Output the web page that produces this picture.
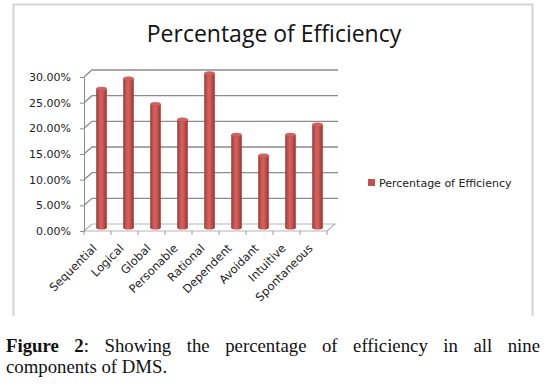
<!DOCTYPE html>
<html>
<head>
<meta charset="utf-8">
<script src="https://cdn.jsdelivr.net/npm/d3@7"></script>
<style>
  body { margin: 0; background: #fff; }
  #wrap { position: relative; width: 545px; height: 387px; overflow: hidden; }
  svg { position: absolute; left: 0; top: 0; }
  .caption {
    position: absolute;
    left: 6px;
    width: 534px;
    font-family: 'Liberation Serif', 'Times New Roman', serif;
    font-size: 18.8px;
    line-height: 21px;
    color: #111;
  }
  .caption .l1 { text-align: justify; text-align-last: justify; }
  .axis text { font-family: 'DejaVu Sans', sans-serif; font-size: 11px; fill: #222; }
  .axis path, .axis line { stroke: #8c8c8c; }
</style>
</head>
<body>
<div id="wrap">
  <div id="chart"></div>
  <div class="caption" style="top:335px">
    <div class="l1"><b>Figure 2</b>: Showing the percentage of efficiency in all nine</div>
    <div>components of DMS.</div>
  </div>
</div>
<script>
// data
const categories = ['Sequential', 'Logical', 'Global', 'Personable', 'Rational',
  'Dependent', 'Avoidant', 'Intuitive', 'Spontaneous'];
const efficiency = [0.27, 0.29, 0.24, 0.21, 0.30, 0.18, 0.14, 0.18, 0.20];
const yTicks = [0, 0.05, 0.10, 0.15, 0.20, 0.25, 0.30];
const seriesName = 'Percentage of Efficiency';
const chartTitle = 'Percentage of Efficiency';

const width = 545;
const height = 387;

// fake 3d depth of the excel chart (back wall offset)
const depthX = 8;
const depthY = -7;

const barColor = '#c0504d';

const svg = d3
  .select('#chart')
  .append('svg')
  .attr('width', width)
  .attr('height', height);

const defs = svg.append('defs');
const grad = defs
  .append('linearGradient')
  .attr('id', 'cyl')
  .attr('x1', '0%')
  .attr('x2', '100%')
  .attr('y1', '0%')
  .attr('y2', '0%');
[
  ['0%', '#8e3532'],
  ['22%', '#c4514d'],
  ['45%', '#d8625e'],
  ['72%', '#c0504d'],
  ['100%', '#8a3330'],
].forEach(s => grad.append('stop').attr('offset', s[0]).attr('stop-color', s[1]));

// chart frame (bottom edge is cut off in the original)
svg
  .append('path')
  .attr('d', 'M13.5,316 V4.5 H532.5 V316')
  .attr('fill', 'none')
  .attr('stroke', '#d4d4d4')
  .attr('stroke-width', 2);

svg
  .append('text')
  .attr('x', 274)
  .attr('y', 42)
  .attr('text-anchor', 'middle')
  .style('font-family', "'Open Sans', sans-serif")
  .style('font-size', '23px')
  .style('fill', '#111')
  .text(chartTitle);

const x = d3
  .scaleBand()
  .domain(categories)
  .range([84, 327]);

const y = d3
  .scaleLinear()
  .domain([0, 0.30])
  .range([231, 77]);

const backRight = x.range()[1] + depthX;

// gridlines on side wall + back wall
svg
  .append('g')
  .selectAll('path')
  .data(yTicks.filter(d => d > 0))
  .enter()
  .append('path')
  .attr('d', d => `M84,${y(d)} L${84 + depthX},${y(d) + depthY} L${backRight + 3},${y(d) + depthY}`)
  .attr('fill', 'none')
  .attr('stroke', '#8c8c8c')
  .attr('stroke-width', 1.3);

// floor
const y0 = y(0);
svg
  .append('path')
  .attr('d', `M84,${y0} L${x.range()[1]},${y0} L${backRight},${y0 + depthY} L${84 + depthX},${y0 + depthY} Z`)
  .attr('fill', 'none')
  .attr('stroke', '#b5b5b5')
  .attr('stroke-width', 1.2);

// category ticks under the floor
svg
  .append('g')
  .selectAll('line')
  .data(d3.range(categories.length + 1))
  .enter()
  .append('line')
  .attr('x1', i => x.range()[0] + i * x.step())
  .attr('x2', i => x.range()[0] + i * x.step())
  .attr('y1', y0)
  .attr('y2', y0 + 4)
  .attr('stroke', '#9a9a9a');

// value axis
const yAxis = d3
  .axisLeft(y)
  .tickValues(yTicks)
  .tickFormat(d3.format('.2%'))
  .tickSize(4)
  .tickSizeOuter(0)
  .tickPadding(9);

svg
  .append('g')
  .attr('class', 'axis')
  .attr('transform', 'translate(84,0)')
  .call(yAxis);

// cylinders, sitting at half depth
const barW = 10.5;
const ry = 2;
const bars = svg
  .append('g')
  .selectAll('g')
  .data(categories.map((c, i) => ({ name: c, value: efficiency[i] })))
  .enter()
  .append('g')
  .attr('transform', d => `translate(${x(d.name) + x.bandwidth() / 2 + depthX / 2},${depthY / 2})`);

bars
  .append('ellipse')
  .attr('cx', 0)
  .attr('cy', y0)
  .attr('rx', barW / 2)
  .attr('ry', ry)
  .attr('fill', 'url(#cyl)');

bars
  .append('rect')
  .attr('x', -barW / 2)
  .attr('width', barW)
  .attr('y', d => y(d.value))
  .attr('height', d => y0 - y(d.value))
  .attr('fill', 'url(#cyl)');

bars
  .append('ellipse')
  .attr('cx', 0)
  .attr('cy', d => y(d.value))
  .attr('rx', barW / 2)
  .attr('ry', ry)
  .attr('fill', '#d2625e')
  .attr('stroke', '#b04542')
  .attr('stroke-width', 0.4);

// rotated category labels
svg
  .append('g')
  .attr('class', 'axis')
  .selectAll('text')
  .data(categories)
  .enter()
  .append('text')
  .attr('text-anchor', 'end')
  .attr('transform', d => `translate(${x(d) + x.bandwidth() / 2},${y0 + 18}) rotate(-45)`)
  .style('font-size', '11.5px')
  .text(d => d);

// legend
const legend = svg.append('g').attr('transform', 'translate(368,179)');
legend
  .append('rect')
  .attr('width', 7)
  .attr('height', 7)
  .attr('fill', barColor);
legend
  .append('text')
  .attr('class', 'legendTxt')
  .attr('x', 11)
  .attr('y', 8)
  .style('font-family', "'DejaVu Sans', sans-serif")
  .style('font-size', '11px')
  .style('fill', '#222')
  .text(seriesName);
</script>
</body>
</html>
